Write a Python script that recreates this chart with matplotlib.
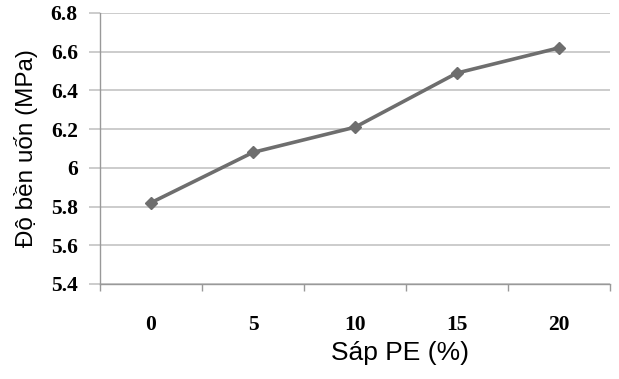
import numpy as np
import matplotlib.pyplot as plt

pe = ['0', '5', '10', '15', '20']
strength = [5.82, 6.08, 6.21, 6.49, 6.62]
yticks = [5.4, 5.6, 5.8, 6.0, 6.2, 6.4, 6.6, 6.8]
ylabels = ['5.4', '5.6', '5.8', '6', '6.2', '6.4', '6.6', '6.8']

fig = plt.figure(figsize=(6.19, 3.79), dpi=100)
ax = fig.add_axes([0.1616, 0.2507, 0.8239, 0.715])

x = np.arange(len(pe))
ax.plot(x, strength, color='#6e6e6e', lw=2.6, marker='D', ms=6.5, zorder=3)

ax.set_xlim(-0.5, len(pe) - 0.5)
ax.set_ylim(5.4, 6.8)

# category axis: ticks between categories, labels in the middle
ax.set_xticks(np.arange(len(pe) + 1) - 0.5)
ax.set_xticklabels([])
ax.set_xticks(x, minor=True)
ax.set_xticklabels(pe, minor=True, fontfamily='Liberation Serif',
                   fontweight='bold', fontsize=15.5)
ax.tick_params(axis='x', which='major', length=5, color='#999999', width=1)
ax.tick_params(axis='x', which='minor', length=0, pad=22)

ax.set_yticks(yticks)
ax.set_yticklabels(ylabels, fontfamily='Liberation Serif',
                   fontweight='bold', fontsize=15.5)
ax.tick_params(axis='y', length=8, color='#c4c4c4', width=1.2, pad=8)

ax.grid(axis='y', color='#c4c4c4', lw=1.2)
ax.set_axisbelow(True)
for s in ['top', 'right']:
    ax.spines[s].set_visible(False)
for s in ['left', 'bottom']:
    ax.spines[s].set_color('#999999')
    ax.spines[s].set_linewidth(1)

ax.set_xlabel('Sáp PE (%)', fontfamily='Liberation Sans', fontsize=19)
ax.xaxis.set_label_coords(0.588, -0.21)
ax.set_ylabel('Độ bền uốn (MPa)', fontfamily='Liberation Sans', fontsize=17.5, labelpad=9)

fig.savefig('out.png', dpi=100)
